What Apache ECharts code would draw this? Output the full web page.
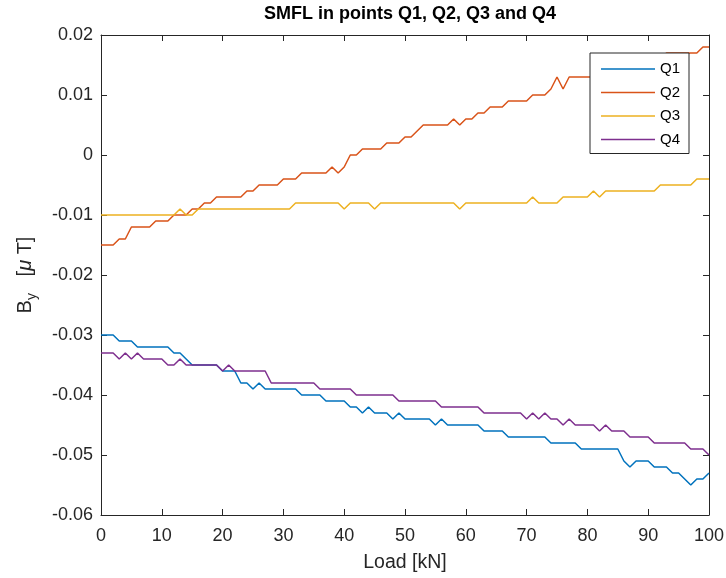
<!DOCTYPE html>
<html>
<head>
<meta charset="utf-8">
<title>SMFL in points Q1, Q2, Q3 and Q4</title>
<script src="https://cdn.jsdelivr.net/npm/echarts@6/dist/echarts.min.js"></script>
<style>
  html, body { margin: 0; padding: 0; background: #fff; }
  #chart { width: 726px; height: 578px; }
</style>
</head>
<body>
<div id="chart"></div>
<script>
// Load steps [kN]
const load = [
  0, 1, 2, 3, 4, 5, 6, 7, 8, 9, 10, 11, 12, 13, 14, 15, 16, 17, 18, 19,
  20, 21, 22, 23, 24, 25, 26, 27, 28, 29, 30, 31, 32, 33, 34, 35, 36, 37, 38, 39,
  40, 41, 42, 43, 44, 45, 46, 47, 48, 49, 50, 51, 52, 53, 54, 55, 56, 57, 58, 59,
  60, 61, 62, 63, 64, 65, 66, 67, 68, 69, 70, 71, 72, 73, 74, 75, 76, 77, 78, 79,
  80, 81, 82, 83, 84, 85, 86, 87, 88, 89, 90, 91, 92, 93, 94, 95, 96, 97, 98, 99,
  100
];

// By [uT] measured at each point
const q1 = [
  -0.030, -0.030, -0.030, -0.031, -0.031, -0.031, -0.032, -0.032, -0.032, -0.032,
  -0.032, -0.032, -0.033, -0.033, -0.034, -0.035, -0.035, -0.035, -0.035, -0.035,
  -0.036, -0.036, -0.036, -0.038, -0.038, -0.039, -0.038, -0.039, -0.039, -0.039,
  -0.039, -0.039, -0.039, -0.040, -0.040, -0.040, -0.040, -0.041, -0.041, -0.041,
  -0.041, -0.042, -0.042, -0.043, -0.042, -0.043, -0.043, -0.043, -0.044, -0.043,
  -0.044, -0.044, -0.044, -0.044, -0.044, -0.045, -0.044, -0.045, -0.045, -0.045,
  -0.045, -0.045, -0.045, -0.046, -0.046, -0.046, -0.046, -0.047, -0.047, -0.047,
  -0.047, -0.047, -0.047, -0.047, -0.048, -0.048, -0.048, -0.048, -0.048, -0.049,
  -0.049, -0.049, -0.049, -0.049, -0.049, -0.049, -0.051, -0.052, -0.051, -0.051,
  -0.051, -0.052, -0.052, -0.052, -0.053, -0.053, -0.054, -0.055, -0.054, -0.054,
  -0.053
];

const q2 = [
  -0.015, -0.015, -0.015, -0.014, -0.014, -0.012, -0.012, -0.012, -0.012, -0.011,
  -0.011, -0.011, -0.010, -0.010, -0.010, -0.009, -0.009, -0.008, -0.008, -0.007,
  -0.007, -0.007, -0.007, -0.007, -0.006, -0.006, -0.005, -0.005, -0.005, -0.005,
  -0.004, -0.004, -0.004, -0.003, -0.003, -0.003, -0.003, -0.003, -0.002, -0.003,
  -0.002, 0.000, 0.000, 0.001, 0.001, 0.001, 0.001, 0.002, 0.002, 0.002,
  0.003, 0.003, 0.004, 0.005, 0.005, 0.005, 0.005, 0.005, 0.006, 0.005,
  0.006, 0.006, 0.007, 0.007, 0.008, 0.008, 0.008, 0.009, 0.009, 0.009,
  0.009, 0.010, 0.010, 0.010, 0.011, 0.013, 0.011, 0.013, 0.013, 0.013,
  0.013, 0.013, 0.014, 0.014, 0.014, 0.015, 0.015, 0.015, 0.015, 0.016,
  0.016, 0.016, 0.016, 0.017, 0.017, 0.017, 0.017, 0.017, 0.017, 0.018,
  0.018
];

const q3 = [
  -0.010, -0.010, -0.010, -0.010, -0.010, -0.010, -0.010, -0.010, -0.010, -0.010,
  -0.010, -0.010, -0.010, -0.009, -0.010, -0.010, -0.009, -0.009, -0.009, -0.009,
  -0.009, -0.009, -0.009, -0.009, -0.009, -0.009, -0.009, -0.009, -0.009, -0.009,
  -0.009, -0.009, -0.008, -0.008, -0.008, -0.008, -0.008, -0.008, -0.008, -0.008,
  -0.009, -0.008, -0.008, -0.008, -0.008, -0.009, -0.008, -0.008, -0.008, -0.008,
  -0.008, -0.008, -0.008, -0.008, -0.008, -0.008, -0.008, -0.008, -0.008, -0.009,
  -0.008, -0.008, -0.008, -0.008, -0.008, -0.008, -0.008, -0.008, -0.008, -0.008,
  -0.008, -0.007, -0.008, -0.008, -0.008, -0.008, -0.007, -0.007, -0.007, -0.007,
  -0.007, -0.006, -0.007, -0.006, -0.006, -0.006, -0.006, -0.006, -0.006, -0.006,
  -0.006, -0.006, -0.005, -0.005, -0.005, -0.005, -0.005, -0.005, -0.004, -0.004,
  -0.004
];

const q4 = [
  -0.033, -0.033, -0.033, -0.034, -0.033, -0.034, -0.033, -0.034, -0.034, -0.034,
  -0.034, -0.035, -0.035, -0.034, -0.035, -0.035, -0.035, -0.035, -0.035, -0.035,
  -0.036, -0.035, -0.036, -0.036, -0.036, -0.036, -0.036, -0.036, -0.038, -0.038,
  -0.038, -0.038, -0.038, -0.038, -0.038, -0.038, -0.039, -0.039, -0.039, -0.039,
  -0.039, -0.039, -0.040, -0.040, -0.040, -0.040, -0.040, -0.040, -0.040, -0.041,
  -0.041, -0.041, -0.041, -0.041, -0.041, -0.041, -0.042, -0.042, -0.042, -0.042,
  -0.042, -0.042, -0.042, -0.043, -0.043, -0.043, -0.043, -0.043, -0.043, -0.043,
  -0.044, -0.043, -0.044, -0.043, -0.044, -0.044, -0.045, -0.044, -0.045, -0.045,
  -0.045, -0.045, -0.046, -0.045, -0.046, -0.046, -0.046, -0.047, -0.047, -0.047,
  -0.047, -0.048, -0.048, -0.048, -0.048, -0.048, -0.048, -0.049, -0.049, -0.049,
  -0.050
];

const seriesNames = ['Q1', 'Q2', 'Q3', 'Q4'];
const seriesValues = [q1, q2, q3, q4];
const seriesColors = ['#0072BD', '#D95319', '#EDB120', '#7E2F8E'];

const xTicks = { min: 0, max: 100, interval: 10 };
const yTicks = { min: -0.06, max: 0.02, interval: 0.01 };

const FONT = 'Liberation Sans, Arial, Helvetica, sans-serif';
const AXIS_COLOR = '#262626';

function pairs(xs, ys) {
  return xs.map((x, i) => [x, ys[i]]);
}

// Axis drawn as one side of the boxed frame, ticks pointing inwards
function boxAxis(extra) {
  return Object.assign({
    type: 'value',
    axisLine: { show: true, onZero: false, lineStyle: { color: AXIS_COLOR, width: 1 } },
    axisTick: { show: true, inside: true, length: 6, lineStyle: { color: AXIS_COLOR, width: 1 } },
    splitLine: { show: false },
    axisLabel: { show: false }
  }, extra);
}

const chart = echarts.init(document.getElementById('chart'), null, { renderer: 'canvas' });

chart.setOption({
  animation: false,
  backgroundColor: '#ffffff',
  textStyle: { fontFamily: FONT },
  title: {
    text: 'SMFL in points Q1, Q2, Q3 and Q4',
    left: 405,
    textAlign: 'center',
    top: 0,
    textStyle: { fontFamily: FONT, fontSize: 18, fontWeight: 'bold', color: '#000' }
  },
  grid: {
    left: 101, top: 35, width: 608, height: 480,
    containLabel: false,
    outerBoundsMode: 'none'
  },
  legend: {
    data: seriesNames,
    orient: 'vertical',
    left: 590,
    top: 53,
    icon: 'rect',
    itemWidth: 54,
    itemHeight: 1.6,
    itemGap: 7.5,
    itemTextGap: 7,
    padding: [8, 9, 6, 11],
    backgroundColor: '#ffffff',
    borderColor: AXIS_COLOR,
    borderWidth: 1,
    borderRadius: 0,
    textStyle: { fontFamily: FONT, fontSize: 15, color: '#000', lineHeight: 16 }
  },
  xAxis: [
    boxAxis({
      position: 'bottom',
      min: xTicks.min, max: xTicks.max, interval: xTicks.interval,
      axisLabel: { show: true, fontFamily: FONT, fontSize: 18, color: AXIS_COLOR, margin: 12 },
      name: 'Load [kN]',
      nameLocation: 'middle',
      nameGap: 38,
      nameTextStyle: { fontFamily: FONT, fontSize: 19.5, color: AXIS_COLOR }
    }),
    boxAxis({
      position: 'top',
      min: xTicks.min, max: xTicks.max, interval: xTicks.interval
    })
  ],
  yAxis: [
    boxAxis({
      position: 'left',
      min: yTicks.min, max: yTicks.max, interval: yTicks.interval,
      axisLabel: {
        show: true, fontFamily: FONT, fontSize: 18, color: AXIS_COLOR, margin: 8,
        formatter: v => String(+v.toFixed(2))
      },
      name: '{a|B}{s|y}{a|   [}{m|μ}{a| T]}',
      nameLocation: 'middle',
      nameRotate: 90,
      nameGap: 62,
      nameTextStyle: {
        fontFamily: FONT, color: AXIS_COLOR,
        rich: {
          a: { fontFamily: FONT, fontSize: 20, color: AXIS_COLOR },
          s: { fontFamily: FONT, fontSize: 14, color: AXIS_COLOR, padding: [13, 0, 0, 0] },
          m: { fontFamily: FONT, fontSize: 20, fontStyle: 'italic', color: AXIS_COLOR }
        }
      }
    }),
    boxAxis({
      position: 'right',
      min: yTicks.min, max: yTicks.max, interval: yTicks.interval
    })
  ],
  series: seriesNames.map((name, i) => ({
    name: name,
    type: 'line',
    xAxisIndex: 0,
    yAxisIndex: 0,
    symbol: 'none',
    smooth: false,
    lineStyle: { color: seriesColors[i], width: 1.5 },
    itemStyle: { color: seriesColors[i] },
    emphasis: { disabled: true },
    data: pairs(load, seriesValues[i])
  }))
});
</script>
</body>
</html>
